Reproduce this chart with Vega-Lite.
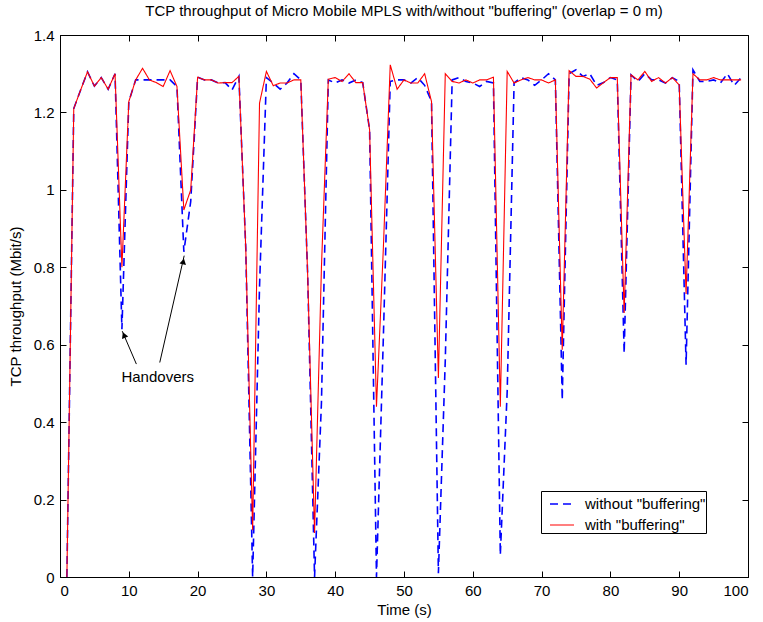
{
  "$schema": "https://vega.github.io/schema/vega-lite/v6.json",
  "width": 688,
  "height": 542,
  "autosize": "none",
  "padding": {"left": 60, "top": 35, "right": 15, "bottom": 45},
  "background": "white",
  "title": {"text": "TCP throughput of Micro Mobile MPLS with/without \"buffering\" (overlap = 0 m)", "fontSize": 15, "font": "Liberation Sans", "fontWeight": "normal", "color": "black", "offset": 9},
  "config": {
    "font": "Liberation Sans",
    "view": {"stroke": "black", "strokeWidth": 1},
    "axis": {"grid": false, "domainColor": "black", "tickColor": "black", "labelColor": "black", "titleColor": "black", "labelFontSize": 15, "titleFontSize": 15, "titleFontWeight": "normal", "tickSize": -6, "labelPadding": 12, "labelFont": "Liberation Sans", "titleFont": "Liberation Sans"}
  },
  "datasets": {
    "series": [
      {"t":1,"v":0,"s":"without \"buffering\""},{"t":2,"v":1.21,"s":"without \"buffering\""},{"t":3,"v":1.258,"s":"without \"buffering\""},{"t":4,"v":1.305,"s":"without \"buffering\""},{"t":5,"v":1.268,"s":"without \"buffering\""},{"t":6,"v":1.29,"s":"without \"buffering\""},{"t":7,"v":1.26,"s":"without \"buffering\""},{"t":8,"v":1.3,"s":"without \"buffering\""},{"t":9,"v":0.64,"s":"without \"buffering\""},{"t":10,"v":1.228,"s":"without \"buffering\""},
      {"t":11,"v":1.284,"s":"without \"buffering\""},{"t":12,"v":1.284,"s":"without \"buffering\""},{"t":13,"v":1.284,"s":"without \"buffering\""},{"t":14,"v":1.284,"s":"without \"buffering\""},{"t":15,"v":1.284,"s":"without \"buffering\""},{"t":16,"v":1.284,"s":"without \"buffering\""},{"t":17,"v":1.267,"s":"without \"buffering\""},{"t":18,"v":0.84,"s":"without \"buffering\""},{"t":19,"v":0.97,"s":"without \"buffering\""},{"t":20,"v":1.291,"s":"without \"buffering\""},
      {"t":21,"v":1.284,"s":"without \"buffering\""},{"t":22,"v":1.284,"s":"without \"buffering\""},{"t":23,"v":1.276,"s":"without \"buffering\""},{"t":24,"v":1.277,"s":"without \"buffering\""},{"t":25,"v":1.258,"s":"without \"buffering\""},{"t":26,"v":1.293,"s":"without \"buffering\""},{"t":27,"v":0.85,"s":"without \"buffering\""},{"t":28,"v":0,"s":"without \"buffering\""},{"t":29,"v":0.75,"s":"without \"buffering\""},{"t":30,"v":1.29,"s":"without \"buffering\""},
      {"t":31,"v":1.276,"s":"without \"buffering\""},{"t":32,"v":1.26,"s":"without \"buffering\""},{"t":33,"v":1.276,"s":"without \"buffering\""},{"t":34,"v":1.3,"s":"without \"buffering\""},{"t":35,"v":1.284,"s":"without \"buffering\""},{"t":36,"v":0.78,"s":"without \"buffering\""},{"t":37,"v":0,"s":"without \"buffering\""},{"t":38,"v":0.45,"s":"without \"buffering\""},{"t":39,"v":1.284,"s":"without \"buffering\""},{"t":40,"v":1.276,"s":"without \"buffering\""},
      {"t":41,"v":1.284,"s":"without \"buffering\""},{"t":42,"v":1.276,"s":"without \"buffering\""},{"t":43,"v":1.284,"s":"without \"buffering\""},{"t":44,"v":1.277,"s":"without \"buffering\""},{"t":45,"v":1.155,"s":"without \"buffering\""},{"t":46,"v":0,"s":"without \"buffering\""},{"t":47,"v":0.62,"s":"without \"buffering\""},{"t":48,"v":1.28,"s":"without \"buffering\""},{"t":49,"v":1.284,"s":"without \"buffering\""},{"t":50,"v":1.284,"s":"without \"buffering\""},
      {"t":51,"v":1.276,"s":"without \"buffering\""},{"t":52,"v":1.29,"s":"without \"buffering\""},{"t":53,"v":1.27,"s":"without \"buffering\""},{"t":54,"v":1.228,"s":"without \"buffering\""},{"t":55,"v":0.01,"s":"without \"buffering\""},{"t":56,"v":0.56,"s":"without \"buffering\""},{"t":57,"v":1.284,"s":"without \"buffering\""},{"t":58,"v":1.29,"s":"without \"buffering\""},{"t":59,"v":1.28,"s":"without \"buffering\""},{"t":60,"v":1.276,"s":"without \"buffering\""},
      {"t":61,"v":1.267,"s":"without \"buffering\""},{"t":62,"v":1.28,"s":"without \"buffering\""},{"t":63,"v":1.276,"s":"without \"buffering\""},{"t":64,"v":0.057,"s":"without \"buffering\""},{"t":65,"v":0.48,"s":"without \"buffering\""},{"t":66,"v":1.276,"s":"without \"buffering\""},{"t":67,"v":1.29,"s":"without \"buffering\""},{"t":68,"v":1.284,"s":"without \"buffering\""},{"t":69,"v":1.27,"s":"without \"buffering\""},{"t":70,"v":1.284,"s":"without \"buffering\""},
      {"t":71,"v":1.3,"s":"without \"buffering\""},{"t":72,"v":1.284,"s":"without \"buffering\""},{"t":73,"v":0.457,"s":"without \"buffering\""},{"t":74,"v":1.3,"s":"without \"buffering\""},{"t":75,"v":1.31,"s":"without \"buffering\""},{"t":76,"v":1.293,"s":"without \"buffering\""},{"t":77,"v":1.3,"s":"without \"buffering\""},{"t":78,"v":1.27,"s":"without \"buffering\""},{"t":79,"v":1.277,"s":"without \"buffering\""},{"t":80,"v":1.29,"s":"without \"buffering\""},
      {"t":81,"v":1.284,"s":"without \"buffering\""},{"t":82,"v":0.578,"s":"without \"buffering\""},{"t":83,"v":1.297,"s":"without \"buffering\""},{"t":84,"v":1.28,"s":"without \"buffering\""},{"t":85,"v":1.3,"s":"without \"buffering\""},{"t":86,"v":1.284,"s":"without \"buffering\""},{"t":87,"v":1.284,"s":"without \"buffering\""},{"t":88,"v":1.276,"s":"without \"buffering\""},{"t":89,"v":1.29,"s":"without \"buffering\""},{"t":90,"v":1.28,"s":"without \"buffering\""},
      {"t":91,"v":0.548,"s":"without \"buffering\""},{"t":92,"v":1.31,"s":"without \"buffering\""},{"t":93,"v":1.28,"s":"without \"buffering\""},{"t":94,"v":1.28,"s":"without \"buffering\""},{"t":95,"v":1.284,"s":"without \"buffering\""},{"t":96,"v":1.276,"s":"without \"buffering\""},{"t":97,"v":1.3,"s":"without \"buffering\""},{"t":98,"v":1.27,"s":"without \"buffering\""},{"t":99,"v":1.29,"s":"without \"buffering\""},
      {"t":1,"v":0,"s":"with \"buffering\""},{"t":2,"v":1.21,"s":"with \"buffering\""},{"t":3,"v":1.258,"s":"with \"buffering\""},{"t":4,"v":1.305,"s":"with \"buffering\""},{"t":5,"v":1.268,"s":"with \"buffering\""},{"t":6,"v":1.29,"s":"with \"buffering\""},{"t":7,"v":1.26,"s":"with \"buffering\""},{"t":8,"v":1.3,"s":"with \"buffering\""},{"t":9,"v":0.8,"s":"with \"buffering\""},{"t":10,"v":1.228,"s":"with \"buffering\""},
      {"t":11,"v":1.284,"s":"with \"buffering\""},{"t":12,"v":1.314,"s":"with \"buffering\""},{"t":13,"v":1.284,"s":"with \"buffering\""},{"t":14,"v":1.277,"s":"with \"buffering\""},{"t":15,"v":1.267,"s":"with \"buffering\""},{"t":16,"v":1.308,"s":"with \"buffering\""},{"t":17,"v":1.267,"s":"with \"buffering\""},{"t":18,"v":0.948,"s":"with \"buffering\""},{"t":19,"v":1.0,"s":"with \"buffering\""},{"t":20,"v":1.291,"s":"with \"buffering\""},
      {"t":21,"v":1.284,"s":"with \"buffering\""},{"t":22,"v":1.284,"s":"with \"buffering\""},{"t":23,"v":1.276,"s":"with \"buffering\""},{"t":24,"v":1.277,"s":"with \"buffering\""},{"t":25,"v":1.277,"s":"with \"buffering\""},{"t":26,"v":1.293,"s":"with \"buffering\""},{"t":27,"v":0.85,"s":"with \"buffering\""},{"t":28,"v":0.121,"s":"with \"buffering\""},{"t":29,"v":1.224,"s":"with \"buffering\""},{"t":30,"v":1.306,"s":"with \"buffering\""},
      {"t":31,"v":1.269,"s":"with \"buffering\""},{"t":32,"v":1.276,"s":"with \"buffering\""},{"t":33,"v":1.276,"s":"with \"buffering\""},{"t":34,"v":1.284,"s":"with \"buffering\""},{"t":35,"v":1.284,"s":"with \"buffering\""},{"t":36,"v":0.78,"s":"with \"buffering\""},{"t":37,"v":0.114,"s":"with \"buffering\""},{"t":38,"v":0.8,"s":"with \"buffering\""},{"t":39,"v":1.286,"s":"with \"buffering\""},{"t":40,"v":1.29,"s":"with \"buffering\""},
      {"t":41,"v":1.28,"s":"with \"buffering\""},{"t":42,"v":1.3,"s":"with \"buffering\""},{"t":43,"v":1.277,"s":"with \"buffering\""},{"t":44,"v":1.277,"s":"with \"buffering\""},{"t":45,"v":1.155,"s":"with \"buffering\""},{"t":46,"v":0.44,"s":"with \"buffering\""},{"t":47,"v":0.85,"s":"with \"buffering\""},{"t":48,"v":1.323,"s":"with \"buffering\""},{"t":49,"v":1.26,"s":"with \"buffering\""},{"t":50,"v":1.284,"s":"with \"buffering\""},
      {"t":51,"v":1.276,"s":"with \"buffering\""},{"t":52,"v":1.276,"s":"with \"buffering\""},{"t":53,"v":1.3,"s":"with \"buffering\""},{"t":54,"v":1.228,"s":"with \"buffering\""},{"t":55,"v":0.514,"s":"with \"buffering\""},{"t":56,"v":1.3,"s":"with \"buffering\""},{"t":57,"v":1.28,"s":"with \"buffering\""},{"t":58,"v":1.276,"s":"with \"buffering\""},{"t":59,"v":1.284,"s":"with \"buffering\""},{"t":60,"v":1.276,"s":"with \"buffering\""},
      {"t":61,"v":1.284,"s":"with \"buffering\""},{"t":62,"v":1.284,"s":"with \"buffering\""},{"t":63,"v":1.291,"s":"with \"buffering\""},{"t":64,"v":0.44,"s":"with \"buffering\""},{"t":65,"v":1.306,"s":"with \"buffering\""},{"t":66,"v":1.276,"s":"with \"buffering\""},{"t":67,"v":1.284,"s":"with \"buffering\""},{"t":68,"v":1.29,"s":"with \"buffering\""},{"t":69,"v":1.284,"s":"with \"buffering\""},{"t":70,"v":1.284,"s":"with \"buffering\""},
      {"t":71,"v":1.276,"s":"with \"buffering\""},{"t":72,"v":1.284,"s":"with \"buffering\""},{"t":73,"v":0.587,"s":"with \"buffering\""},{"t":74,"v":1.308,"s":"with \"buffering\""},{"t":75,"v":1.293,"s":"with \"buffering\""},{"t":76,"v":1.293,"s":"with \"buffering\""},{"t":77,"v":1.286,"s":"with \"buffering\""},{"t":78,"v":1.263,"s":"with \"buffering\""},{"t":79,"v":1.277,"s":"with \"buffering\""},{"t":80,"v":1.29,"s":"with \"buffering\""},
      {"t":81,"v":1.29,"s":"with \"buffering\""},{"t":82,"v":0.682,"s":"with \"buffering\""},{"t":83,"v":1.297,"s":"with \"buffering\""},{"t":84,"v":1.284,"s":"with \"buffering\""},{"t":85,"v":1.306,"s":"with \"buffering\""},{"t":86,"v":1.28,"s":"with \"buffering\""},{"t":87,"v":1.29,"s":"with \"buffering\""},{"t":88,"v":1.276,"s":"with \"buffering\""},{"t":89,"v":1.29,"s":"with \"buffering\""},{"t":90,"v":1.271,"s":"with \"buffering\""},
      {"t":91,"v":0.731,"s":"with \"buffering\""},{"t":92,"v":1.3,"s":"with \"buffering\""},{"t":93,"v":1.284,"s":"with \"buffering\""},{"t":94,"v":1.284,"s":"with \"buffering\""},{"t":95,"v":1.29,"s":"with \"buffering\""},{"t":96,"v":1.284,"s":"with \"buffering\""},{"t":97,"v":1.284,"s":"with \"buffering\""},{"t":98,"v":1.284,"s":"with \"buffering\""},{"t":99,"v":1.284,"s":"with \"buffering\""}
    ]
  },
  "layer": [
    {
      "data": {"name": "series"},
      "mark": {"type": "line", "clip": true},
      "encoding": {
        "x": {"field": "t", "type": "quantitative", "title": "Time (s)", "scale": {"domain": [0, 100], "nice": false}, "axis": {"orient": "bottom", "values": [0,10,20,30,40,50,60,70,80,90,100], "titlePadding": 4}},
        "y": {"field": "v", "type": "quantitative", "title": "TCP throughput (Mbit/s)", "scale": {"domain": [0, 1.4], "nice": false}, "axis": {"orient": "left", "values": [0,0.2,0.4,0.6,0.8,1,1.2,1.4], "format": "~g", "titlePadding": 10}},
        "color": {"field": "s", "type": "nominal", "sort": null, "scale": {"domain": ["without \"buffering\"", "with \"buffering\""], "range": ["#0000ff", "#ff0000"]},
          "legend": {"orient": "none", "legendX": 481, "legendY": 456, "title": null, "strokeColor": "black", "fillColor": "white", "padding": 0, "labelFontSize": 15, "labelColor": "black", "symbolType": "stroke", "symbolSize": 576, "symbolOffset": 8, "rowPadding": -5, "labelOffset": 10, "cornerRadius": 0, "symbolStrokeWidth": 1.5}},
        "strokeDash": {"field": "s", "type": "nominal", "sort": null, "scale": {"domain": ["without \"buffering\"", "with \"buffering\""], "range": [[8, 5], [1, 0]]}, "legend": null},
        "strokeWidth": {"field": "s", "type": "nominal", "sort": null, "scale": {"domain": ["without \"buffering\"", "with \"buffering\""], "range": [1.6, 1.1]}, "legend": null}
      }
    },
    {
      "data": {"values": [{"t1": 11.1, "v1": 0.55, "t2": 9.05, "v2": 0.635}, {"t1": 14.5, "v1": 0.554, "t2": 18.05, "v2": 0.83}]},
      "mark": {"type": "rule", "color": "black", "strokeWidth": 1},
      "encoding": {
        "x": {"field": "t1", "type": "quantitative", "axis": null},
        "y": {"field": "v1", "type": "quantitative", "axis": null},
        "x2": {"field": "t2"},
        "y2": {"field": "v2"}
      }
    },
    {
      "data": {"values": [{"t": 9.3, "v": 0.625}]},
      "mark": {"type": "point", "shape": "triangle-up", "filled": true, "color": "black", "size": 45, "angle": 337, "opacity": 1},
      "encoding": {
        "x": {"field": "t", "type": "quantitative", "axis": null},
        "y": {"field": "v", "type": "quantitative", "axis": null}
      }
    },
    {
      "data": {"values": [{"t": 17.93, "v": 0.815}]},
      "mark": {"type": "point", "shape": "triangle-up", "filled": true, "color": "black", "size": 45, "angle": 13, "opacity": 1},
      "encoding": {
        "x": {"field": "t", "type": "quantitative", "axis": null},
        "y": {"field": "v", "type": "quantitative", "axis": null}
      }
    },
    {
      "data": {"values": [{"t": 14.2, "v": 0.517, "label": "Handovers"}]},
      "mark": {"type": "text", "fontSize": 15, "color": "black", "align": "center", "baseline": "middle", "font": "Liberation Sans"},
      "encoding": {
        "x": {"field": "t", "type": "quantitative", "axis": {"orient": "top", "labels": false, "title": null, "values": [0,10,20,30,40,50,60,70,80,90,100], "domain": false}},
        "y": {"field": "v", "type": "quantitative", "axis": {"orient": "right", "labels": false, "title": null, "values": [0,0.2,0.4,0.6,0.8,1,1.2,1.4], "domain": false}},
        "text": {"field": "label"}
      }
    }
  ],
  "resolve": {"axis": {"x": "independent", "y": "independent"}}
}
